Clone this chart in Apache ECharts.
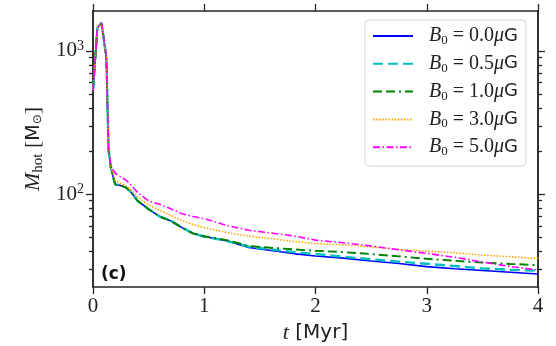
<!DOCTYPE html>
<html>
<head>
<meta charset="utf-8">
<script src="https://cdn.jsdelivr.net/npm/echarts@6/dist/echarts.min.js"></script>
<style>
  html, body { margin: 0; padding: 0; background: #fff; }
  #chart { width: 556px; height: 346px; }
</style>
</head>
<body>
<div id="chart"></div>
<script>
// time in Myr
const times = [0, 0.04, 0.077, 0.12, 0.14, 0.16, 0.18, 0.2, 0.25, 0.3, 0.35, 0.4, 0.5, 0.6, 0.7, 0.8, 0.9, 1.0,
  1.2, 1.4, 1.6, 1.8, 2.0, 2.25, 2.5, 2.75, 3.0, 3.25, 3.5, 3.75, 4.0]

// M_hot in solar masses, one array per B0
const mB00 = [532, 1452, 1560, 903, 203, 154, 133, 117, 115, 111, 101.6, 90, 78.6, 69.8, 65.1, 58.4, 53.2, 50.6,
  47.3, 42.5, 40.5, 38.5, 37.0, 35.8, 34.2, 32.8, 31.2, 30.2, 29.3, 28.5, 27.7]
const mB05 = [532, 1452, 1575, 903, 203, 154, 133, 117, 115, 111, 101.6, 90, 78.6, 69.8, 65.1, 58.4, 53.2, 50.6,
  47.3, 43.0, 41.2, 39.5, 38.2, 36.6, 35.1, 33.8, 32.7, 31.5, 30.3, 29.7, 29.2]
const mB10 = [532, 1452, 1560, 903, 203, 154, 133, 117, 115, 111, 101.6, 90, 78.6, 69.8, 65.1, 58.4, 53.2, 50.9,
  47.8, 43.5, 42.3, 41.2, 40.3, 39.4, 38.2, 36.8, 35.4, 34.3, 33.3, 32.6, 32.0]
const mB30 = [532, 1452, 1560, 903, 204, 156, 139, 124, 119, 114, 106, 96, 84, 77, 71, 65.5, 61.5, 58.5,
  54, 51, 49, 46.8, 45.2, 44.3, 42.8, 41.2, 40.0, 39.0, 37.6, 36.6, 35.6]
const mB50 = [532, 1452, 1560, 903, 205, 160, 148, 140, 132, 125, 114, 103, 89.5, 85, 79, 73, 69.8, 67.5,
  60.5, 56, 53.6, 51.2, 47.8, 45.8, 43.5, 40.9, 38.6, 36.3, 33.6, 31.3, 29.6]

const seriesNames = ['B0 = 0.0μG', 'B0 = 0.5μG', 'B0 = 1.0μG', 'B0 = 3.0μG', 'B0 = 5.0μG']
const seriesData = [mB00, mB05, mB10, mB30, mB50]
const colors = ['#0000ff', '#00bfbf', '#008000', '#ffa500', '#ff00ff']
const dashes = ['solid', [10, 5], [9, 4, 9, 4, 2, 4], [1.5, 1.6], [7, 2.5, 1.5, 2.5]]
const widths = [1.6, 2.4, 1.9, 1.6, 1.6]

const xTicks = [0, 1, 2, 3, 4]
const yMajor = [100, 1000]
const yMinor = [30, 40, 50, 60, 70, 80, 90, 200, 300, 400, 500, 600, 700, 800, 900]
const yMin = 22.5
const yMax = 1900

const axisColor = '#262626'
const serif = 'Liberation Serif'

function yAxisOf (position, ticks, len, withLabel) {
  return {
    type: 'log',
    position: position,
    min: yMin,
    max: yMax,
    axisLine: { show: true, lineStyle: { color: axisColor, width: 1.5 } },
    axisTick: { show: true, inside: false, length: len, customValues: ticks, lineStyle: { color: axisColor, width: 1.3 } },
    axisLabel: withLabel ? {
      show: true,
      customValues: ticks,
      margin: 9,
      formatter: v => '{b|10}{e|' + Math.round(Math.log10(v)) + '}',
      rich: {
        b: { fontFamily: serif, fontSize: 21, color: '#222' },
        e: { fontFamily: serif, fontSize: 14, color: '#222', verticalAlign: 'top', padding: [0, 0, 10, 0] }
      }
    } : { show: false },
    splitLine: { show: false }
  }
}

const chart = echarts.init(document.getElementById('chart'), null, { renderer: 'canvas' })

const yAxes = [
  yAxisOf('left', yMajor, 7, true),
  yAxisOf('left', yMinor, 4, false),
  yAxisOf('right', yMajor, 7, false),
  yAxisOf('right', yMinor, 4, false)
]
yAxes[0].name = '{m|M}{s|hot}{n| [}{u|M}{o|⊙}{n|]}'
yAxes[0].nameLocation = 'middle'
yAxes[0].nameGap = 47
yAxes[0].nameTextStyle = {
  rich: {
    m: { fontFamily: serif, fontStyle: 'italic', fontSize: 22, color: '#222' },
    s: { fontFamily: serif, fontSize: 15, color: '#222', padding: [8, 0, 0, 0] },
    n: { fontFamily: serif, fontSize: 22, color: '#222' },
    u: { fontFamily: 'DejaVu Sans', fontSize: 19, color: '#222' },
    o: { fontFamily: 'DejaVu Sans', fontSize: 12, color: '#222', padding: [8, 0, 0, 0] }
  }
}

chart.setOption({
  animation: false,
  backgroundColor: '#fff',
  title: {
    text: '(c)',
    left: 96,
    top: 261,
    textStyle: { fontFamily: 'DejaVu Sans', fontWeight: 'bold', fontSize: 17, color: '#111' }
  },
  grid: { left: 93, right: 18, top: 11, bottom: 59, outerBoundsMode: 'none' },
  legend: {
    left: 365,
    top: 20,
    orient: 'vertical',
    itemWidth: 40,
    itemHeight: 14,
    itemGap: 6.8,
    itemStyle: { opacity: 0 },
    padding: [6, 8, 8, 7],
    borderColor: '#d6d6d6',
    borderWidth: 1,
    borderRadius: 4,
    backgroundColor: 'rgba(255,255,255,0.85)',
    data: seriesNames,
    formatter: name => '{b|B}{s|0}{r| = ' + name.slice(5, 8) + '}{mu|μ}{g|G}',
    textStyle: {
      padding: [0, 0, 0, 11],
      rich: {
        b: { fontFamily: serif, fontStyle: 'italic', fontSize: 20, color: '#222', lineHeight: 19 },
        s: { fontFamily: serif, fontSize: 13, color: '#222', padding: [9, 0, 0, 0] },
        r: { fontFamily: serif, fontSize: 20, color: '#222', lineHeight: 19 },
        mu: { fontFamily: serif, fontStyle: 'italic', fontSize: 20, color: '#222', lineHeight: 19 },
        g: { fontFamily: 'DejaVu Sans', fontSize: 18, color: '#222', lineHeight: 19 }
      }
    }
  },
  xAxis: [
    {
      type: 'value',
      position: 'bottom',
      min: 0,
      max: 4,
      interval: 1,
      axisLine: { show: true, lineStyle: { color: axisColor, width: 1.5 } },
      axisTick: { show: true, inside: false, length: 7, lineStyle: { color: axisColor, width: 1.3 } },
      axisLabel: { margin: 9, fontFamily: serif, fontSize: 21, color: '#222', customValues: xTicks },
      splitLine: { show: false },
      name: '{t|t}{n| [Myr]}',
      nameLocation: 'middle',
      nameGap: 26,
      nameTextStyle: {
        rich: {
          t: { fontFamily: serif, fontStyle: 'italic', fontSize: 22, color: '#222' },
          n: { fontFamily: 'DejaVu Sans', fontSize: 20, color: '#222' }
        }
      }
    },
    {
      type: 'value',
      position: 'top',
      min: 0,
      max: 4,
      interval: 1,
      axisLine: { show: true, lineStyle: { color: axisColor, width: 1.5 } },
      axisTick: { show: true, inside: false, length: 7, lineStyle: { color: axisColor, width: 1.3 } },
      axisLabel: { show: false },
      splitLine: { show: false }
    }
  ],
  yAxis: yAxes,
  series: seriesNames.map((name, i) => ({
    name: name,
    type: 'line',
    xAxisIndex: 0,
    yAxisIndex: 0,
    showSymbol: false,
    symbol: 'none',
    smooth: false,
    z: 2 + i,
    data: times.map((t, k) => [t, seriesData[i][k]]),
    itemStyle: { color: colors[i] },
    lineStyle: { color: colors[i], width: widths[i], type: dashes[i] }
  }))
})
</script>
</body>
</html>
